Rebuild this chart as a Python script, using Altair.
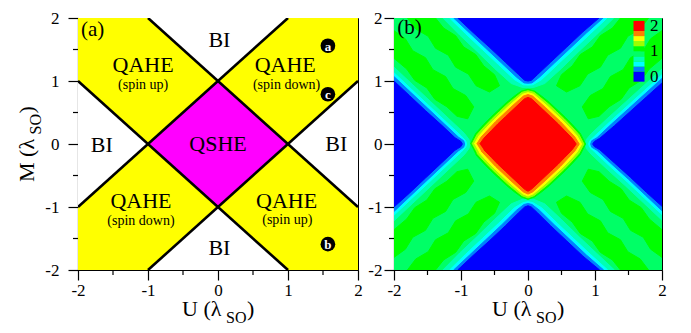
import altair as alt
import pandas as pd

FONT = "Liberation Serif, Times New Roman, serif"
W_A, W_B, H = 280, 268, 252

# ---------------- axis ticks ----------------
major_ticks = [-2, -1, 0, 1, 2]
minor_ticks = [-1.5, -0.5, 0.5, 1.5]

# ---------------- panel (a): phase diagram ----------------
a_square = [(-2, -2), (2, -2), (2, 2), (-2, 2)]
a_bi_top = [(-1, 2), (0, 1), (1, 2)]
a_bi_bottom = [(-1, -2), (0, -1), (1, -2)]
a_bi_left = [(-2, 1), (-1, 0), (-2, -1)]
a_bi_right = [(2, 1), (1, 0), (2, -1)]
a_qshe = [(-1, 0), (0, 1), (1, 0), (0, -1)]
a_lines = [[(-2, -1), (1, 2)], [(-1, -2), (2, 1)], [(-1, 2), (2, -1)], [(-2, 1), (1, -2)]]

big_text = ["BI", "QAHE", "QAHE", "BI", "QSHE", "BI", "QAHE", "QAHE", "BI"]
big_u = [0.02, -1.07, 0.96, -1.66, 0.0, 1.69, -1.10, 0.98, 0.02]
big_m = [1.65, 1.25, 1.25, -0.01, 0.0, 0.0, -0.90, -0.90, -1.65]
small_text = ["(spin up)", "(spin down)", "(spin down)", "(spin up)"]
small_u = [-1.07, 0.98, -1.10, 0.99]
small_m = [0.94, 0.94, -1.22, -1.21]
dot_text = ["a", "c", "b"]
dot_u = [1.57, 1.57, 1.57]
dot_m = [1.56, 0.79, -1.59]

# ---------------- panel (b): contour regions ----------------
b_square = [(-2, -2), (2, -2), (2, 2), (-2, 2)]

blue_top = [(-1.05, 2.0), (-0.82, 1.77), (-0.58, 1.54), (-0.34, 1.3), (-0.14, 1.1), (-0.05, 1.01), (0, 1.0), (0.05, 1.01), (0.14, 1.1), (0.34, 1.3), (0.58, 1.54), (0.82, 1.78), (1.06, 2.0)]
azure_top = [(-1.11, 2.0), (-0.87, 1.76), (-0.63, 1.52), (-0.39, 1.28), (-0.17, 1.06), (-0.06, 0.97), (0, 0.965), (0.06, 0.97), (0.17, 1.06), (0.39, 1.28), (0.63, 1.52), (0.87, 1.76), (1.12, 2.0)]
cyan_top = [(-1.17, 2.0), (-0.93, 1.75), (-0.68, 1.5), (-0.44, 1.26), (-0.2, 1.02), (-0.07, 0.94), (0, 0.935), (0.07, 0.94), (0.2, 1.02), (0.44, 1.26), (0.68, 1.5), (0.93, 1.75), (1.18, 2.0)]
aqua_top = [(-1.27, 2.0), (-1.02, 1.73), (-0.76, 1.47), (-0.5, 1.2), (-0.25, 0.96), (-0.09, 0.9), (0, 0.89), (0.09, 0.9), (0.25, 0.96), (0.5, 1.2), (0.76, 1.47), (1.02, 1.73), (1.28, 2.0)]

blue_bot = [(-1.05, -2.0), (-0.82, -1.77), (-0.58, -1.54), (-0.34, -1.3), (-0.14, -1.09), (-0.05, -1.0), (0, -0.98), (0.05, -1.0), (0.14, -1.09), (0.34, -1.3), (0.58, -1.54), (0.82, -1.78), (1.07, -2.0)]
azure_bot = [(-1.11, -2.0), (-0.87, -1.76), (-0.63, -1.52), (-0.39, -1.28), (-0.17, -1.05), (-0.06, -0.96), (0, -0.945), (0.06, -0.96), (0.17, -1.05), (0.39, -1.28), (0.63, -1.52), (0.87, -1.76), (1.13, -2.0)]
cyan_bot = [(-1.17, -2.0), (-0.93, -1.75), (-0.68, -1.5), (-0.44, -1.26), (-0.2, -1.01), (-0.07, -0.93), (0, -0.915), (0.07, -0.93), (0.2, -1.01), (0.44, -1.26), (0.68, -1.5), (0.93, -1.75), (1.19, -2.0)]
aqua_bot = [(-1.27, -2.0), (-1.02, -1.73), (-0.76, -1.47), (-0.5, -1.2), (-0.25, -0.95), (-0.09, -0.88), (0, -0.87), (0.09, -0.88), (0.25, -0.95), (0.5, -1.2), (0.76, -1.47), (1.02, -1.73), (1.29, -2.0)]

blue_left = [(-2.0, 1.0), (-1.77, 0.77), (-1.53, 0.53), (-1.29, 0.3), (-1.09, 0.1), (-1.0, 0.04), (-0.98, 0.0), (-1.0, -0.04), (-1.09, -0.1), (-1.29, -0.3), (-1.53, -0.54), (-1.77, -0.78), (-2.0, -1.0)]
azure_left = [(-2.0, 1.07), (-1.75, 0.82), (-1.5, 0.57), (-1.25, 0.32), (-1.04, 0.11), (-0.96, 0.05), (-0.945, 0.0), (-0.96, -0.05), (-1.04, -0.11), (-1.25, -0.32), (-1.5, -0.57), (-1.75, -0.82), (-2.0, -1.07)]
cyan_left = [(-2.0, 1.13), (-1.74, 0.87), (-1.48, 0.61), (-1.22, 0.35), (-1.0, 0.13), (-0.93, 0.05), (-0.915, 0.0), (-0.93, -0.05), (-1.0, -0.13), (-1.22, -0.35), (-1.48, -0.61), (-1.74, -0.87), (-2.0, -1.13)]
aqua_left = [(-2.0, 1.22), (-1.72, 0.94), (-1.45, 0.67), (-1.18, 0.4), (-0.95, 0.17), (-0.88, 0.07), (-0.865, 0.0), (-0.88, -0.07), (-0.95, -0.17), (-1.18, -0.4), (-1.45, -0.67), (-1.72, -0.94), (-2.0, -1.22)]

blue_right = [(2.0, 0.97), (1.77, 0.75), (1.53, 0.52), (1.29, 0.29), (1.07, 0.09), (0.99, 0.04), (0.965, 0.0), (0.99, -0.04), (1.07, -0.09), (1.29, -0.3), (1.53, -0.53), (1.77, -0.77), (2.0, -0.99)]
azure_right = [(2.0, 1.04), (1.75, 0.8), (1.5, 0.56), (1.25, 0.32), (1.03, 0.1), (0.95, 0.05), (0.935, 0.0), (0.95, -0.05), (1.03, -0.1), (1.25, -0.32), (1.5, -0.56), (1.75, -0.81), (2.0, -1.06)]
cyan_right = [(2.0, 1.1), (1.74, 0.85), (1.48, 0.6), (1.22, 0.35), (0.99, 0.12), (0.92, 0.05), (0.905, 0.0), (0.92, -0.05), (0.99, -0.12), (1.22, -0.35), (1.48, -0.6), (1.74, -0.86), (2.0, -1.12)]
aqua_right = [(2.0, 1.19), (1.72, 0.92), (1.45, 0.66), (1.18, 0.4), (0.94, 0.16), (0.87, 0.07), (0.855, 0.0), (0.87, -0.07), (0.94, -0.16), (1.18, -0.4), (1.45, -0.66), (1.72, -0.93), (2.0, -1.21)]

# darker-green stripes along the four arms (scalloped edges)
tl_a = [(-1.38, 2.0), (-1.26, 1.84), (-1.08, 1.72), (-0.96, 1.54), (-0.78, 1.42), (-0.66, 1.24), (-0.5, 1.1), (-0.425, 0.925), (-0.575, 0.825), (-0.775, 0.925), (-0.89, 1.11), (-1.08, 1.22), (-1.19, 1.41), (-1.38, 1.52), (-1.49, 1.71), (-1.675, 1.825), (-1.8, 2.0)]
tl_b = [(-2.0, 1.36), (-1.81, 1.19), (-1.69, 1.01), (-1.51, 0.89), (-1.39, 0.71), (-1.21, 0.59), (-1.06, 0.44), (-0.9, 0.4), (-0.81, 0.59), (-0.93, 0.77), (-1.12, 0.88), (-1.23, 1.07), (-1.42, 1.18), (-1.53, 1.37), (-1.72, 1.48), (-1.83, 1.67), (-2.0, 1.8)]
tr_a = [(1.38, 2.0), (1.26, 1.84), (1.08, 1.72), (0.96, 1.54), (0.78, 1.42), (0.66, 1.24), (0.5, 1.1), (0.425, 0.925), (0.575, 0.825), (0.775, 0.925), (0.89, 1.11), (1.08, 1.22), (1.19, 1.41), (1.38, 1.52), (1.49, 1.71), (1.675, 1.825), (1.8, 2.0)]
tr_b = [(2.0, 1.36), (1.81, 1.19), (1.69, 1.01), (1.51, 0.89), (1.39, 0.71), (1.21, 0.59), (1.06, 0.44), (0.9, 0.4), (0.81, 0.59), (0.93, 0.77), (1.12, 0.88), (1.23, 1.07), (1.42, 1.18), (1.53, 1.37), (1.72, 1.48), (1.83, 1.67), (2.0, 1.8)]
bl_a = [(-1.38, -2.0), (-1.26, -1.84), (-1.08, -1.72), (-0.96, -1.54), (-0.78, -1.42), (-0.66, -1.24), (-0.5, -1.1), (-0.425, -0.925), (-0.575, -0.825), (-0.775, -0.925), (-0.89, -1.11), (-1.08, -1.22), (-1.19, -1.41), (-1.38, -1.52), (-1.49, -1.71), (-1.675, -1.825), (-1.8, -2.0)]
bl_b = [(-2.0, -1.36), (-1.81, -1.19), (-1.69, -1.01), (-1.51, -0.89), (-1.39, -0.71), (-1.21, -0.59), (-1.06, -0.44), (-0.9, -0.4), (-0.81, -0.59), (-0.93, -0.77), (-1.12, -0.88), (-1.23, -1.07), (-1.42, -1.18), (-1.53, -1.37), (-1.72, -1.48), (-1.83, -1.67), (-2.0, -1.8)]
br_a = [(1.38, -2.0), (1.26, -1.84), (1.08, -1.72), (0.96, -1.54), (0.78, -1.42), (0.66, -1.24), (0.5, -1.1), (0.425, -0.925), (0.575, -0.825), (0.775, -0.925), (0.89, -1.11), (1.08, -1.22), (1.19, -1.41), (1.38, -1.52), (1.49, -1.71), (1.675, -1.825), (1.8, -2.0)]
br_b = [(2.0, -1.36), (1.81, -1.19), (1.69, -1.01), (1.51, -0.89), (1.39, -0.71), (1.21, -0.59), (1.06, -0.44), (0.9, -0.4), (0.81, -0.59), (0.93, -0.77), (1.12, -0.88), (1.23, -1.07), (1.42, -1.18), (1.53, -1.37), (1.72, -1.48), (1.83, -1.67), (2.0, -1.8)]

# central rings
green_ring = [(-0.86, 0.0), (-0.78, 0.17), (-0.665, 0.305), (-0.555, 0.425), (-0.445, 0.535), (-0.325, 0.655), (-0.21, 0.755), (-0.10, 0.84), (0.0, 0.87), (0.10, 0.84), (0.21, 0.755), (0.325, 0.655), (0.445, 0.535), (0.555, 0.425), (0.665, 0.305), (0.78, 0.17), (0.86, 0.0), (0.78, -0.17), (0.665, -0.305), (0.555, -0.425), (0.445, -0.535), (0.325, -0.655), (0.21, -0.755), (0.10, -0.84), (0.0, -0.88), (-0.10, -0.84), (-0.21, -0.755), (-0.325, -0.655), (-0.445, -0.535), (-0.555, -0.425), (-0.665, -0.305), (-0.78, -0.17)]
ygreen_ring = [(-0.835, 0.0), (-0.76, 0.15), (-0.645, 0.285), (-0.535, 0.405), (-0.425, 0.515), (-0.305, 0.635), (-0.19, 0.735), (-0.09, 0.82), (0.0, 0.845), (0.09, 0.82), (0.19, 0.735), (0.305, 0.635), (0.425, 0.515), (0.535, 0.405), (0.645, 0.285), (0.76, 0.15), (0.835, 0.0), (0.76, -0.15), (0.645, -0.285), (0.535, -0.405), (0.425, -0.515), (0.305, -0.635), (0.19, -0.735), (0.09, -0.82), (0.0, -0.855), (-0.09, -0.82), (-0.19, -0.735), (-0.305, -0.635), (-0.425, -0.515), (-0.535, -0.405), (-0.645, -0.285), (-0.76, -0.15)]
yellow_ring = [(-0.80, 0.0), (-0.73, 0.13), (-0.62, 0.26), (-0.51, 0.38), (-0.40, 0.49), (-0.28, 0.61), (-0.17, 0.71), (-0.08, 0.79), (0.0, 0.815), (0.08, 0.79), (0.17, 0.71), (0.28, 0.61), (0.40, 0.49), (0.51, 0.38), (0.62, 0.26), (0.73, 0.13), (0.80, 0.0), (0.73, -0.13), (0.62, -0.26), (0.51, -0.38), (0.40, -0.49), (0.28, -0.61), (0.17, -0.71), (0.08, -0.79), (0.0, -0.825), (-0.08, -0.79), (-0.17, -0.71), (-0.28, -0.61), (-0.40, -0.49), (-0.51, -0.38), (-0.62, -0.26), (-0.73, -0.13)]
orange_ring = [(-0.765, 0.0), (-0.70, 0.11), (-0.59, 0.235), (-0.485, 0.355), (-0.375, 0.465), (-0.255, 0.585), (-0.15, 0.685), (-0.07, 0.76), (0.0, 0.785), (0.07, 0.76), (0.15, 0.685), (0.255, 0.585), (0.375, 0.465), (0.485, 0.355), (0.59, 0.235), (0.70, 0.11), (0.765, 0.0), (0.70, -0.11), (0.59, -0.235), (0.485, -0.355), (0.375, -0.465), (0.255, -0.585), (0.15, -0.685), (0.07, -0.76), (0.0, -0.795), (-0.07, -0.76), (-0.15, -0.685), (-0.255, -0.585), (-0.375, -0.465), (-0.485, -0.355), (-0.59, -0.235), (-0.70, -0.11)]
red_core = [(-0.72, 0.0), (-0.66, 0.09), (-0.55, 0.21), (-0.45, 0.32), (-0.34, 0.43), (-0.22, 0.55), (-0.12, 0.65), (-0.05, 0.72), (0.0, 0.74), (0.05, 0.72), (0.12, 0.65), (0.22, 0.55), (0.34, 0.43), (0.45, 0.32), (0.55, 0.21), (0.66, 0.09), (0.72, 0.0), (0.66, -0.09), (0.55, -0.21), (0.45, -0.32), (0.34, -0.43), (0.22, -0.55), (0.12, -0.65), (0.05, -0.72), (0.0, -0.75), (-0.05, -0.72), (-0.12, -0.65), (-0.22, -0.55), (-0.34, -0.43), (-0.45, -0.32), (-0.55, -0.21), (-0.66, -0.09)]

# colour levels (0 ... 2) shared by the contour map and its colour bar
level_names = ["blue", "azure", "cyan", "aqua", "spring", "green", "ygreen", "yellow", "orange", "red"]
level_colors = ["#0000ff", "#0080ff", "#00ffff", "#00ffb4", "#00ff66", "#00ff00", "#9cff00", "#ffff00", "#ff8000", "#ff0000"]
level_lo = [-0.2, 0.2, 0.4, 0.6, 0.8, 1.0, 1.2, 1.4, 1.6, 1.8]
level_hi = [0.2, 0.4, 0.6, 0.8, 1.0, 1.2, 1.4, 1.6, 1.8, 2.2]
cbar_labels = [0, 1, 2]
COL = dict(zip(level_names, level_colors))

# ---------------- tables ----------------
def poly_rows(rows, grp, name, pts, color):
    for i, (u, m) in enumerate(pts):
        rows.append({"grp": grp, "pid": name, "idx": i, "U": u, "M": m, "col": color})

rows_a = []
poly_rows(rows_a, "bg", "square", a_square, "#ffff00")
for nm, p in [("t", a_bi_top), ("b", a_bi_bottom), ("l", a_bi_left), ("r", a_bi_right)]:
    poly_rows(rows_a, "bi", nm, p, "#ffffff")
poly_rows(rows_a, "qshe", "qshe", a_qshe, "#ff00ff")
df_a = pd.DataFrame(rows_a)

line_rows = []
for k, seg in enumerate(a_lines):
    for i, (u, m) in enumerate(seg):
        line_rows.append({"seg": k, "idx": i, "U": u, "M": m})
df_lines = pd.DataFrame(line_rows)

rows_b = []
poly_rows(rows_b, "spring", "bg", b_square, COL["spring"])
for nm, p in [("tla", tl_a), ("tlb", tl_b), ("tra", tr_a), ("trb", tr_b), ("bla", bl_a), ("blb", bl_b), ("bra", br_a), ("brb", br_b)]:
    poly_rows(rows_b, "green", nm, p, COL["green"])
for lvl, polys in [("aqua", [aqua_top, aqua_bot, aqua_left, aqua_right]),
                   ("cyan", [cyan_top, cyan_bot, cyan_left, cyan_right]),
                   ("azure", [azure_top, azure_bot, azure_left, azure_right]),
                   ("blue", [blue_top, blue_bot, blue_left, blue_right])]:
    for j, p in enumerate(polys):
        poly_rows(rows_b, lvl, lvl + str(j), p, COL[lvl])
for lvl, p in [("gring", green_ring), ("ygreen", ygreen_ring), ("yellow", yellow_ring), ("orange", orange_ring), ("red", red_core)]:
    poly_rows(rows_b, lvl, lvl, p, COL["green"] if lvl == "gring" else COL[lvl])
df_b = pd.DataFrame(rows_b)

df_cbar = pd.DataFrame({"lo": level_lo, "hi": level_hi, "col": level_colors})
df_cbar_lab = pd.DataFrame({"v": cbar_labels, "t": [str(v) for v in cbar_labels]})

df_big = pd.DataFrame({"t": big_text, "U": big_u, "M": big_m})
df_small = pd.DataFrame({"t": small_text, "U": small_u, "M": small_m})
df_dots = pd.DataFrame({"t": dot_text, "U": dot_u, "M": dot_m})
df_minor = pd.DataFrame({"v": minor_ticks})

# ---------------- helpers ----------------
LABEL_EXPR = "datum.value < 0 ? '-' + (-datum.value) : '' + datum.value"
SCALE = alt.Scale(domain=[-2, 2], nice=False, zero=False)


def make_axes(ypad):
    ax_x = alt.Axis(values=major_ticks, title=None, grid=False, labelExpr=LABEL_EXPR,
                    labelFlush=False, labelOverlap=False, labelPadding=2, tickSize=10)
    ax_y = alt.Axis(values=major_ticks, title=None, grid=False, labelExpr=LABEL_EXPR,
                    labelFlush=False, labelOverlap=False, labelPadding=ypad, tickSize=10)
    return ax_x, ax_y


def xy(ax_x, ax_y):
    return dict(x=alt.X("U:Q", scale=SCALE, axis=ax_x), y=alt.Y("M:Q", scale=SCALE, axis=ax_y))


def poly_layer(df, grp, ax_x, ax_y):
    return (alt.Chart(df).transform_filter(alt.datum.grp == grp)
            .mark_line(strokeWidth=1, clip=True)
            .encode(order=alt.Order("idx:Q"), detail="pid:N",
                    fill=alt.Fill("col:N", scale=None), stroke=alt.Stroke("col:N", scale=None),
                    **xy(ax_x, ax_y)))


def minor_layers(ax_x, ax_y):
    mx = alt.Chart(df_minor).mark_rule(color="black", strokeWidth=1.2).encode(
        x=alt.X("v:Q", scale=SCALE, axis=ax_x), y=alt.value(H), y2=alt.value(H + 5))
    my = alt.Chart(df_minor).mark_rule(color="black", strokeWidth=1.2).encode(
        y=alt.Y("v:Q", scale=SCALE, axis=ax_y), x=alt.value(0), x2=alt.value(-5))
    return [mx, my]


def text_piece(txt, x, y, size, angle=0):
    return alt.Chart(pd.DataFrame({"t": [txt]})).mark_text(
        font=FONT, fontSize=size, align="left", baseline="alphabetic", angle=angle, color="black"
    ).encode(text="t:N", x=alt.value(x), y=alt.value(y))


def x_title(center):
    x0 = center - 36
    return [text_piece("U (λ", x0, H + 46, 22),
            text_piece("SO", x0 + 44, H + 53, 16),
            text_piece(")", x0 + 65, H + 46, 22)]


# ---------------- panel (a) ----------------
axa_x, axa_y = make_axes(9)
layers_a = [poly_layer(df_a, g, axa_x, axa_y) for g in ["bg", "bi", "qshe"]]
layers_a.append(alt.Chart(df_lines).mark_line(color="black", strokeWidth=2.6, clip=True).encode(
    order=alt.Order("idx:Q"), detail="seg:N", **xy(axa_x, axa_y)))
layers_a.append(alt.Chart(df_big).mark_text(font=FONT, fontSize=22, color="black").encode(text="t:N", **xy(axa_x, axa_y)))
layers_a.append(alt.Chart(df_small).mark_text(font=FONT, fontSize=14, color="black").encode(text="t:N", **xy(axa_x, axa_y)))
layers_a.append(alt.Chart(df_dots).mark_circle(size=215, color="black", opacity=1).encode(**xy(axa_x, axa_y)))
layers_a.append(alt.Chart(df_dots).mark_text(font=FONT, fontSize=13, fontWeight="bold", color="white", dy=1).encode(text="t:N", **xy(axa_x, axa_y)))
layers_a.append(alt.Chart(pd.DataFrame({"t": ["(a)"], "U": [-1.79], "M": [1.81]})).mark_text(
    font=FONT, fontSize=21, color="black").encode(text="t:N", **xy(axa_x, axa_y)))
layers_a += minor_layers(axa_x, axa_y)
layers_a += x_title(W_A / 2)
layers_a += [text_piece("M (λ", -44, H / 2 + 38, 22, 270),
             text_piece("SO", -37, H / 2 - 9.5, 16, 270),
             text_piece(")", -44, H / 2 - 30.5, 22, 270)]
panel_a = alt.layer(*layers_a).properties(width=W_A, height=H)

# ---------------- panel (b) ----------------
axb_x, axb_y = make_axes(2)
order_b = ["spring", "green", "aqua", "cyan", "azure", "blue", "gring", "ygreen", "yellow", "orange", "red"]
layers_b = [poly_layer(df_b, g, axb_x, axb_y) for g in order_b]
layers_b.append(alt.Chart(pd.DataFrame({"t": ["(b)"], "U": [-1.77], "M": [1.84]})).mark_text(
    font=FONT, fontSize=21, color="black").encode(text="t:N", **xy(axb_x, axb_y)))
layers_b += minor_layers(axb_x, axb_y)
layers_b += x_title(W_B / 2)
main_b = alt.layer(*layers_b)

cb_scale = alt.Scale(domain=[-0.2, 2.2], range=[H * 0.2527, H * 0.0115])
cbar = alt.Chart(df_cbar).mark_rect().encode(
    y=alt.Y("lo:Q", scale=cb_scale, axis=None), y2="hi:Q",
    x=alt.value(239.5), x2=alt.value(250.5), color=alt.Color("col:N", scale=None))
cbar_text = alt.Chart(df_cbar_lab).mark_text(font=FONT, fontSize=17, align="left", baseline="middle", color="black").encode(
    y=alt.Y("v:Q", scale=cb_scale, axis=None), x=alt.value(256), text="t:N")
panel_b = alt.layer(main_b, alt.layer(cbar, cbar_text)).resolve_scale(y="independent").properties(width=W_B, height=H)

chart = (alt.hconcat(panel_a, panel_b, spacing=4)
         .properties(padding={"left": 7, "top": 0, "right": 0, "bottom": 0})
         .configure_view(stroke="black", strokeWidth=1)
         .configure_axis(labelFont=FONT, labelFontSize=17, labelColor="black", domainColor="black",
                         tickColor="black", domainWidth=1.2, tickWidth=1.2))

chart.save("out.html", embed_options={"renderer": "svg", "actions": False})
